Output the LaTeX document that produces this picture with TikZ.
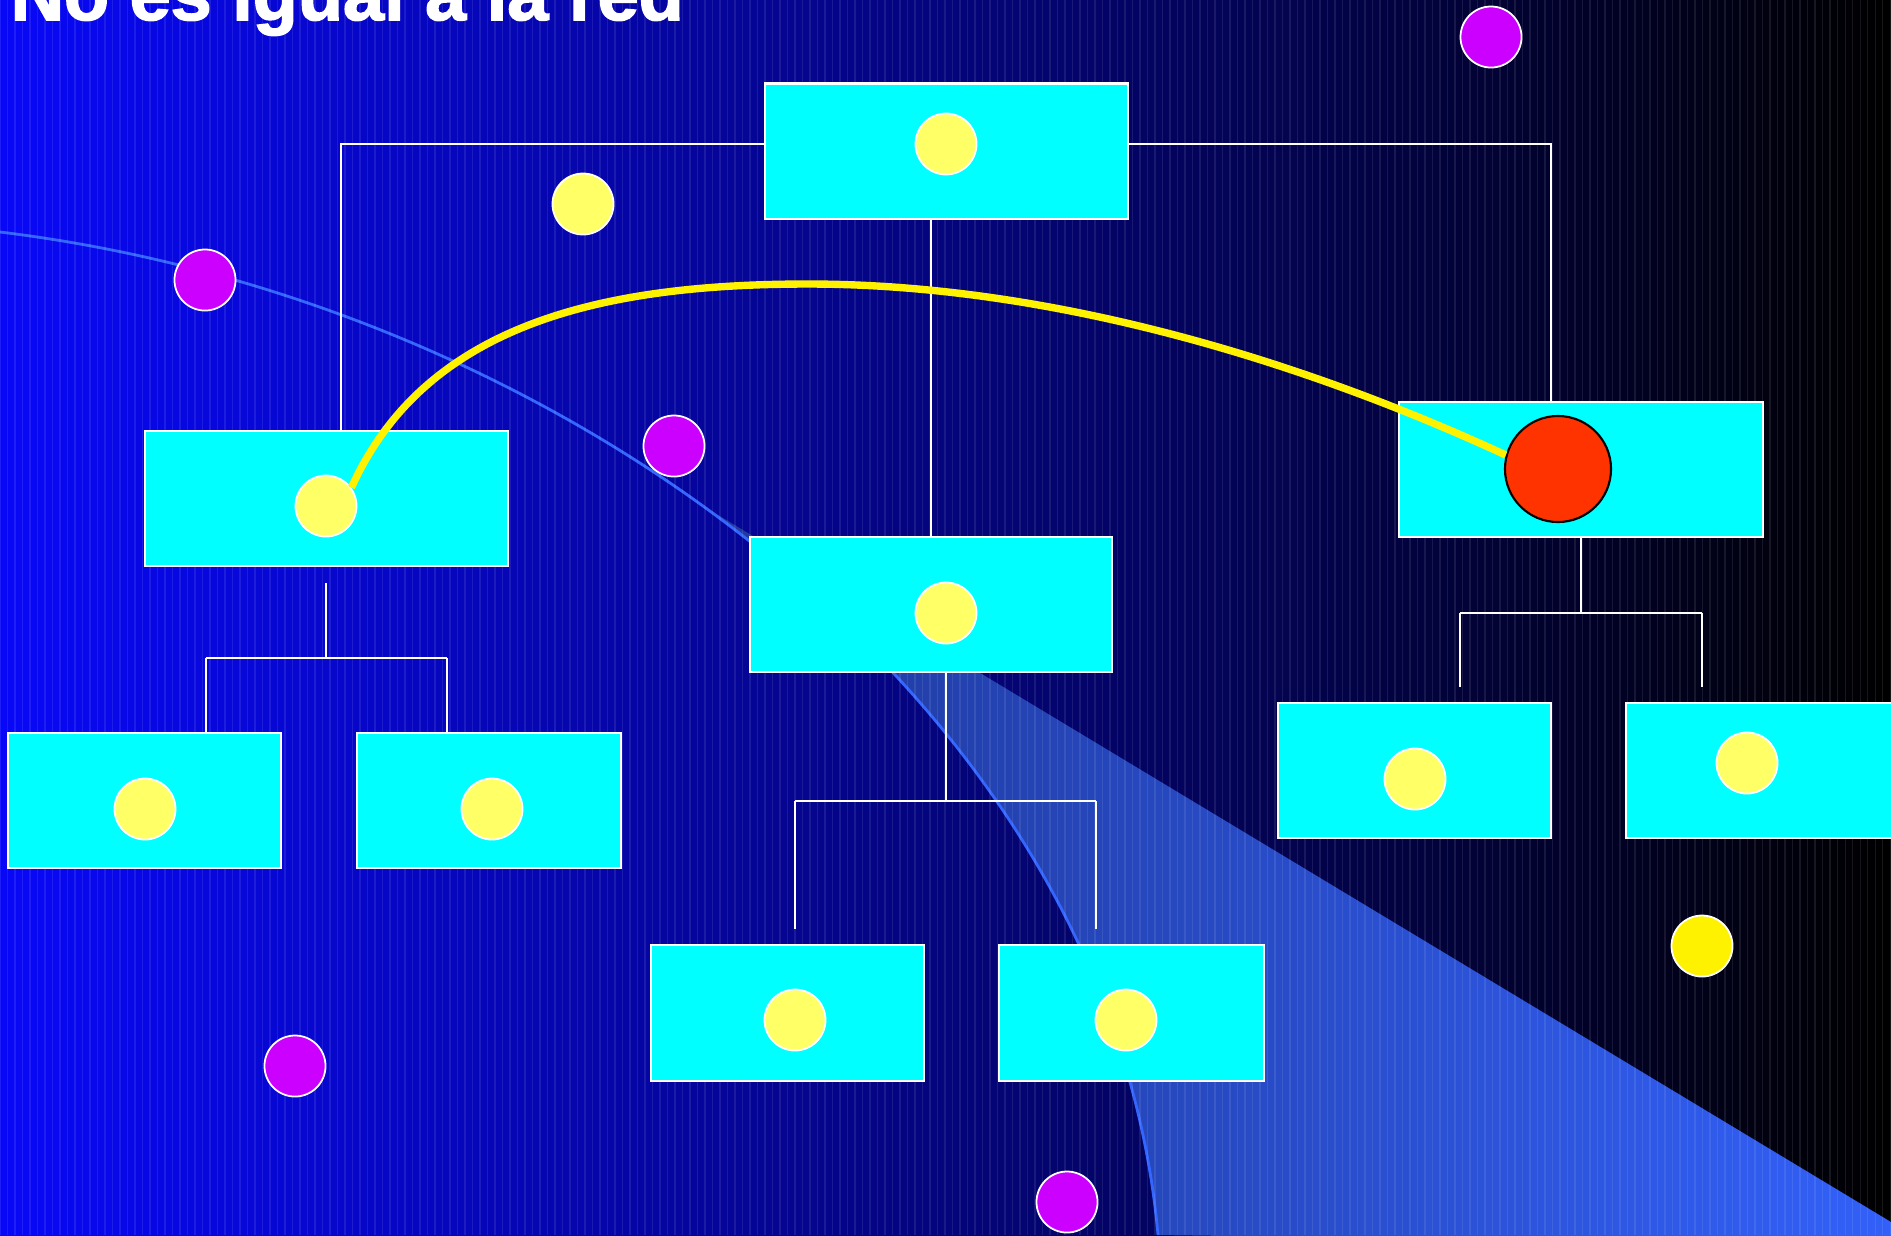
\documentclass[tikz,border=0pt]{standalone}
\usepackage{fontspec}
\setmainfont{Liberation Sans}[BoldFeatures={FakeBold=2}]
\definecolor{bgL}{RGB}{8,8,248}
\definecolor{boxc}{RGB}{0,255,255}
\definecolor{ylw}{RGB}{255,255,102}
\definecolor{mag}{RGB}{204,0,255}
\definecolor{redc}{RGB}{255,51,0}
\definecolor{arcc}{RGB}{51,102,255}
\definecolor{wA}{RGB}{30,55,150}
\definecolor{wB}{RGB}{50,96,248}
\begin{document}
\begin{tikzpicture}[x=0.01cm,y=-0.01cm,
  box/.style={draw=white, line width=0.6pt, fill=boxc, inner sep=0pt, minimum height=1.35cm},
  link/.style={draw=white, line width=0.5pt},
  ydot/.style={circle, draw=white, line width=0.5pt, fill=ylw, inner sep=0pt, minimum size=0.61cm},
  mdot/.style={circle, draw=white, line width=0.5pt, fill=mag, inner sep=0pt, minimum size=0.61cm}]
\useasboundingbox (0,0) rectangle (1891,1235);
\clip (0,0) rectangle (1891,1235);
\shade[left color=bgL, right color=black] (0,0) rectangle (1891,1235);
% light wedge
\begin{scope}
  \clip (650,474) -- (1891,1222) -- (1900,1245) -- (650,1245) -- cycle;
  \clip (0,232) .. controls (560,300) and (1110,700) .. (1158,1235) -- (1900,1245) -- (1900,-10) -- (0,-10) -- cycle;
  \shade[left color=wA, right color=wB] (640,440) rectangle (1891,1235);
\end{scope}
\draw[arcc, line width=0.8pt] (0,232) .. controls (560,300) and (1110,700) .. (1158,1235);
% stripes
\foreach \i in {0,...,252} \draw[white, opacity=0.09, line width=0.3pt] (\i*7.5,0) -- (\i*7.5,1235);
% title
\node[anchor=base west, inner sep=0pt, text=white, font=\fontsize{21pt}{21pt}\selectfont\bfseries] (title) at (10,20) {No es igual a la red};
% boxes
\node[box, minimum width=3.63cm] (top) at (946.5,151) {};
\node[box, minimum width=3.63cm] (lft) at (326.5,498.5) {};
\node[box, minimum width=3.62cm] (ctr) at (931,604.5) {};
\node[box, minimum width=3.64cm] (rgt) at (1581,469.5) {};
\node[box, minimum width=2.73cm] (bl1) at (144.5,800.5) {};
\node[box, minimum width=2.64cm] (bl2) at (489,800.5) {};
\node[box, minimum width=2.73cm, minimum height=1.36cm] (bc1) at (787.5,1013) {};
\node[box, minimum width=2.65cm, minimum height=1.36cm] (bc2) at (1131.5,1013) {};
\node[box, minimum width=2.73cm] (rb1) at (1414.5,770.5) {};
\node[box, minimum width=2.69cm] (rb2) at (1760.5,770.5) {};
% connectors
\coordinate (kL) at (341,144);
\coordinate (kR) at (1551,144);
\draw[link] (top.west |- kL) -| (lft.north -| kL);
\draw[link] (top.east |- kR) -| (rgt.north -| kR);
\draw[link] (ctr.north |- top.south) -- (ctr.north);
\coordinate (l0) at (326,583);
\coordinate (lL) at (206,658);
\coordinate (lR) at (447,658);
\draw[link] (l0) -- (l0 |- lL);
\draw[link] (lL) -- (lR);
\draw[link] (lL) -- (lL |- bl1.north);
\draw[link] (lR) -- (lR |- bl2.north);
\coordinate (c0) at (946,672);
\coordinate (cL) at (795,801);
\coordinate (cR) at (1096,801);
\coordinate (cLe) at (795,929);
\coordinate (cRe) at (1096,929);
\draw[link] (c0) -- (c0 |- cL);
\draw[link] (cL) -- (cR);
\draw[link] (cL) -- (cLe);
\draw[link] (cR) -- (cRe);
\coordinate (rL) at (1460,613);
\coordinate (rR) at (1702,613);
\coordinate (rLe) at (1460,687);
\coordinate (rRe) at (1702,687);
\draw[link] (rgt.south) -- (rgt.south |- rL);
\draw[link] (rL) -- (rR);
\draw[link] (rL) -- (rLe);
\draw[link] (rR) -- (rRe);
% dots
\node[ydot] (yt) at (946,144) {};
\node[ydot] (yf) at (583,204) {};
\node[ydot] (yl) at (326,506) {};
\node[ydot] (yc) at (946,613) {};
\node[ydot] (yb1) at (145,809) {};
\node[ydot] (yb2) at (492,809) {};
\node[ydot] (yc1) at (795,1020) {};
\node[ydot] (yc2) at (1126,1020) {};
\node[ydot] (yr1) at (1415,779) {};
\node[ydot] (yr2) at (1747,763) {};
\node[ydot, fill=yellow] (ybr) at (1702,946) {};
\node[mdot] (m1) at (1491,37) {};
\node[mdot] (m2) at (205,280) {};
\node[mdot] (m3) at (674,446) {};
\node[mdot] (m4) at (295,1066) {};
\node[mdot] (m5) at (1067,1202) {};
\node[circle, draw=black, line width=0.6pt, fill=redc, inner sep=0pt, minimum size=1.06cm] (red) at (1558,469) {};
% yellow link
\coordinate (peak) at (808,284);
\draw[yellow, line width=2.1pt] (yl.36) .. controls (425,325) and (600,284) .. (peak) .. controls (1050,284) and (1300,360) .. (red.165);
\end{tikzpicture}
\end{document}
